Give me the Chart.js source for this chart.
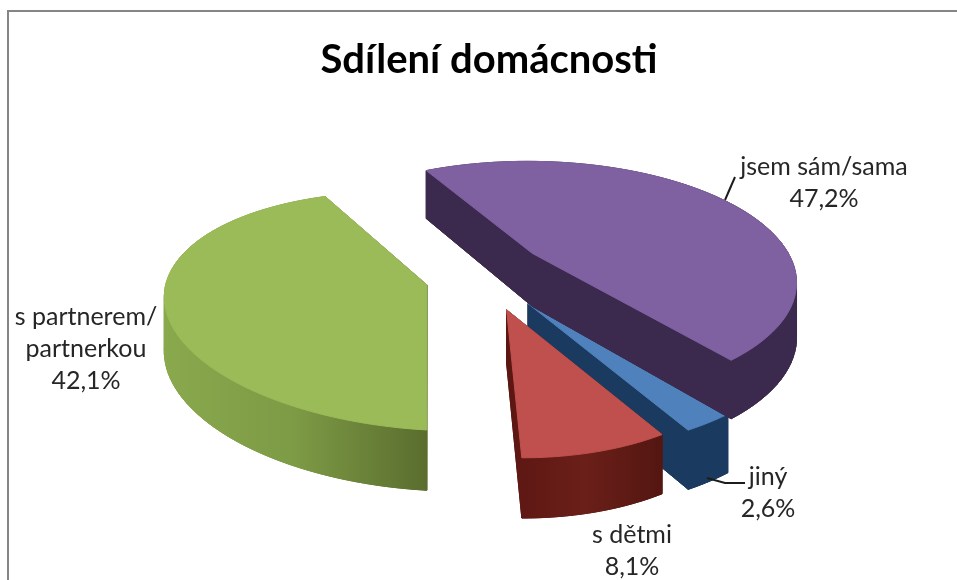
<!DOCTYPE html>
<html lang="cs">
<head>
<meta charset="utf-8">
<title>Sdílení domácnosti</title>
<script src="https://cdn.jsdelivr.net/npm/chart.js@4"></script>
<style>
    html, body { margin: 0; background: #fff; overflow: hidden; }
    #frame { position: absolute; left: 7px; top: 10px; width: 1000px; height: 600px; border: 2px solid #858585; }
    canvas { position: absolute; left: 0; top: 0; }
</style>
</head>
<body>
<div id="frame"></div>
<canvas id="pie" width="957" height="580"></canvas>
<script>
const chartTitle = 'Sdílení domácnosti';
const categories = ['jsem sám/sama', 'jiný', 's dětmi', 's partnerem/\npartnerkou'];
const shares = [47.2, 2.6, 8.1, 42.1];

const topColors = ['#7f60a1', '#4f81bd', '#c0504d', '#9bbb59'];
const sideColors = [
    ['#3b2a4d', '#3b2a4d'],
    ['#1b3a5f', '#1b3a5f'],
    ['#5c1612', '#6b1f19', '#541611'],
    ['#8aa94d', '#7d9a45', '#5a6d2e']
];

// how the flat pie is laid into the 3D view
const flatten = 0.44;
const perspective = 0.2236;
const depth = 53;
const explode = [52, 70, 70, 64];
const lift = [-12, 0, 2, 0];
const drawOrder = [3, 1, 0, 2];
// small per-slice corrections of the view, the old picture is not a clean projection
const growX = [1, 1.035, 0.92, 1];
const growY = [1, 1.035, 1.02, 1];
const skewX = [6, 0, 12, 0];
const skewY = [0, 0, 0, 14];

// label centres and leader lines, in page pixels
const labelSpots = [[824, 167], [768, 477], [632, 535], [86, 317]];
const leaders = [
    [[725, 200], [735, 177]],
    [[707, 478], [725, 483], [745, 483]],
    [],
    []
];

function outline(el, i) {
    const mid = (el.startAngle + el.endAngle) / 2;
    const ax = el.x + Math.cos(mid) * el.options.offset;
    const ay = el.y + Math.sin(mid) * el.options.offset * flatten + lift[i];
    const project = (angle, r) => {
        const u = Math.cos(angle) * r;
        const v = Math.sin(angle) * r;
        const w = 1 - perspective * v;
        return {
            x: ax + (el.outerRadius * growX[i] * u + skewX[i] * v) / w,
            y: ay + (el.outerRadius * growY[i] * flatten * v + skewY[i] * u) / w,
            drop: depth / (1 - 0.12 * v)
        };
    };
    const pts = [project(0, 0)];
    const steps = 72;
    for (let s = 0; s <= steps; s++) {
        pts.push(project(el.startAngle + (el.endAngle - el.startAngle) * s / steps, 1));
    }
    return pts;
}

function trace(ctx, pts) {
    ctx.beginPath();
    pts.forEach((p, n) => n ? ctx.lineTo(p[0], p[1]) : ctx.moveTo(p[0], p[1]));
    ctx.closePath();
}

const pie3d = {
    id: 'pie3d',
    beforeDatasetDraw(chart, args) {
        const ctx = chart.ctx;
        const arcs = args.meta.data;
        ctx.save();
        ctx.lineJoin = 'round';
        drawOrder.forEach(i => {
            const pts = outline(arcs[i], i);
            const top = pts.map(p => [p.x, p.y]);
            const low = pts.map(p => [p.x, p.y + p.drop]);
            const xs = top.map(p => p[0]);
            const grad = ctx.createLinearGradient(Math.min(...xs), 0, Math.max(...xs), 0);
            sideColors[i].forEach((c, n) => grad.addColorStop(n / (sideColors[i].length - 1), c));
            ctx.fillStyle = grad;
            ctx.strokeStyle = grad;
            ctx.lineWidth = 1;
            trace(ctx, low);
            ctx.fill();
            ctx.stroke();
            for (let n = 0; n < top.length; n++) {
                const m = (n + 1) % top.length;
                trace(ctx, [top[n], top[m], low[m], low[n]]);
                ctx.fill();
                ctx.stroke();
            }
            trace(ctx, top);
            ctx.fillStyle = topColors[i];
            ctx.strokeStyle = topColors[i];
            ctx.fill();
            ctx.stroke();
        });
        ctx.restore();
        return false;
    },
    afterDraw(chart) {
        const ctx = chart.ctx;
        ctx.save();
        ctx.strokeStyle = '#1c1c1c';
        ctx.lineWidth = 2;
        leaders.forEach(line => {
            if (!line.length) return;
            ctx.beginPath();
            line.forEach((p, n) => n ? ctx.lineTo(p[0], p[1]) : ctx.moveTo(p[0], p[1]));
            ctx.stroke();
        });
        ctx.font = '25px Lato';
        ctx.fillStyle = '#262626';
        ctx.textAlign = 'center';
        ctx.textBaseline = 'middle';
        categories.forEach((name, i) => {
            const lines = name.split('\n').concat(shares[i].toFixed(1).replace('.', ',') + '%');
            lines.forEach((text, n) => {
                ctx.fillText(text, labelSpots[i][0], labelSpots[i][1] + n * 32);
            });
        });
        ctx.restore();
    }
};

new Chart(document.getElementById('pie'), {
    type: 'pie',
    data: {
        labels: categories,
        datasets: [{
            data: shares,
            backgroundColor: topColors,
            offset: explode,
            radius: 256,
            borderWidth: 0
        }]
    },
    options: {
        responsive: false,
        animation: false,
        rotation: 331.6,
        layout: { padding: { left: 21, right: 0, top: 36, bottom: 108 } },
        plugins: {
            legend: { display: false },
            tooltip: { enabled: false },
            title: {
                display: true,
                text: chartTitle,
                color: '#000',
                font: { family: 'Lato', size: 40, weight: 'bold' },
                padding: 0
            }
        }
    },
    plugins: [pie3d]
});
</script>
</body>
</html>
